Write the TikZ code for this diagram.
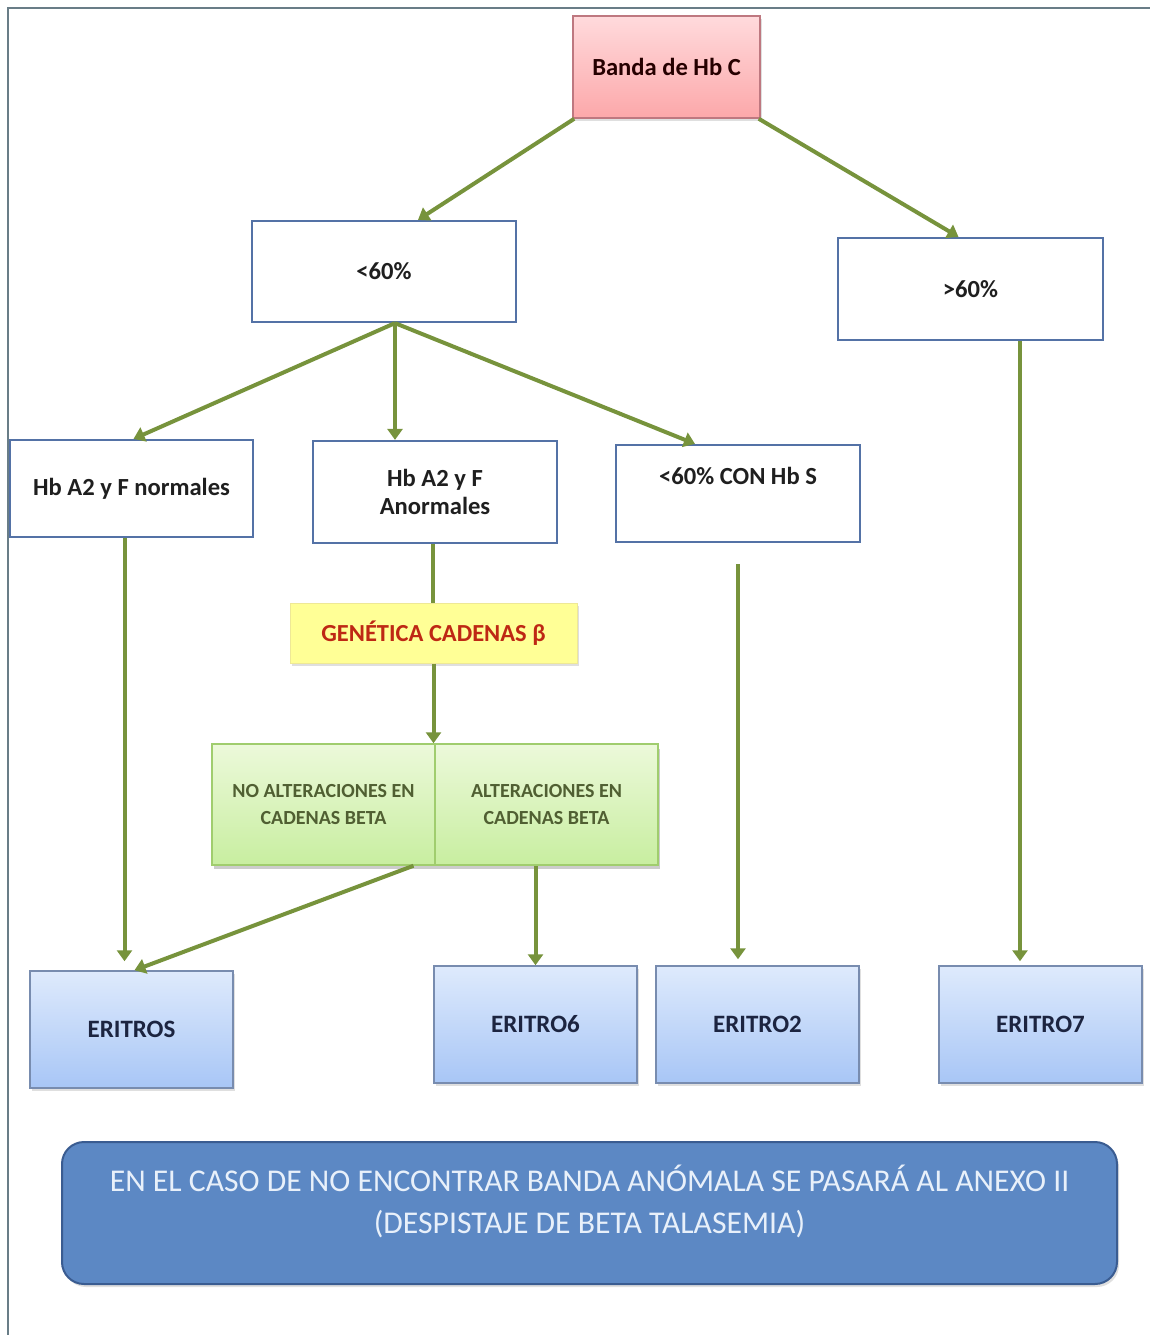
\documentclass[tikz,border=0pt]{standalone}
\usepackage{fontspec}
\setmainfont{Carlito}
\usetikzlibrary{arrows.meta,shadows}

\definecolor{boxblue}{RGB}{84,114,166}
\definecolor{arrowgreen}{RGB}{119,147,60}
\definecolor{pinktop}{RGB}{255,218,220}
\definecolor{pinkbot}{RGB}{252,168,170}
\definecolor{pinkline}{RGB}{190,120,128}
\definecolor{yellowfill}{RGB}{255,255,150}
\definecolor{yellowline}{RGB}{238,232,150}
\definecolor{genred}{RGB}{190,40,20}
\definecolor{greentop}{RGB}{236,249,218}
\definecolor{greenbot}{RGB}{200,238,160}
\definecolor{greenline}{RGB}{160,205,110}
\definecolor{greentext}{RGB}{80,95,50}
\definecolor{eritop}{RGB}{222,234,252}
\definecolor{eribot}{RGB}{168,198,246}
\definecolor{eriline}{RGB}{120,140,175}
\definecolor{eritext}{RGB}{28,36,64}
\definecolor{notefill}{RGB}{92,136,196}
\definecolor{noteline}{RGB}{58,92,145}
\definecolor{notetext}{RGB}{232,240,250}
\definecolor{framegray}{RGB}{105,125,135}

\begin{document}
\begin{tikzpicture}[x=1pt,y=-1pt,
  softshadow/.style={drop shadow={opacity=0.25, shadow xshift=2pt, shadow yshift=-3pt}},
  boxfont/.style={font=\bfseries\fontsize{24.6}{28}\selectfont},
  plainbox/.style={draw=boxblue, line width=2.2pt, fill=white, inner sep=0pt,
    text=black!88, boxfont, align=center},
  startbox/.style={draw=pinkline, line width=1.5pt, top color=pinktop, bottom color=pinkbot,
    inner sep=0pt, text=black!85!red, boxfont, softshadow},
  genbox/.style={draw=yellowline, line width=1pt, fill=yellowfill, inner sep=0pt,
    text=genred, font=\bfseries\fontsize{24.5}{28}\selectfont, softshadow},
  altbox/.style={draw=greenline, line width=1.5pt, top color=greentop, bottom color=greenbot,
    inner sep=0pt, text=greentext, font=\bfseries\fontsize{20}{27}\selectfont, align=center},
  eribox/.style={draw=eriline, line width=1.5pt, top color=eritop, bottom color=eribot,
    inner sep=0pt, text=eritext, font=\bfseries\fontsize{25}{28}\selectfont, softshadow},
  notebox/.style={draw=noteline, line width=2pt, fill=notefill, rounded corners=22pt,
    inner sep=0pt, softshadow},
  arr/.style={draw=arrowgreen, line width=4pt, -{Triangle[width=15pt,length=11pt]}},
  link/.style={draw=arrowgreen, line width=4pt}
]
\useasboundingbox (0,0) rectangle (1150,1335);

% page frame (top and left edges)
\draw[framegray, line width=2.5pt] (8,1335) -- (8,8) -- (1150,8);

% boxes
\node[startbox, minimum width=187pt, minimum height=102pt] (banda) at (666.5,67) {Banda de Hb C};
\node[plainbox, minimum width=264pt, minimum height=101pt] (lt) at (384,271.5) {<60\%};
\node[plainbox, minimum width=265pt, minimum height=102pt] (gt) at (970.5,289) {>60\%};
\node[plainbox, minimum width=243pt, minimum height=97pt] (norm) at (131.5,488.5) {Hb A2 y F normales};
\node[plainbox, minimum width=244pt, minimum height=102pt] (anorm) at (435,492) {Hb A2 y F\\Anormales};
\node[plainbox, minimum width=244pt, minimum height=97pt,
  label={[anchor=north, yshift=-20pt, boxfont, text=black!88]north:{<60\% CON Hb S}}]
  (hbs) at (738,493.5) {};
\node[genbox, minimum width=287pt, minimum height=60pt] (gen) at (433.5,633) {GENÉTICA CADENAS β};

% two-part result box
\fill[black, opacity=0.2] (214,749) rectangle (660,869);
\node[altbox, minimum width=223pt, minimum height=121pt] (noalt) at (323.5,804.5) {NO ALTERACIONES EN\\CADENAS BETA};
\node[altbox, minimum width=223pt, minimum height=121pt] (alt) at (546.5,804.5) {ALTERACIONES EN\\CADENAS BETA};

\node[eribox, minimum width=203pt, minimum height=117pt] (eritros) at (131.5,1029.5) {ERITROS};
\node[eribox, minimum width=203pt, minimum height=117pt] (eritro6) at (535.5,1024.5) {ERITRO6};
\node[eribox, minimum width=203pt, minimum height=117pt] (eritro2) at (757.5,1024.5) {ERITRO2};
\node[eribox, minimum width=203pt, minimum height=117pt] (eritro7) at (1040.5,1024.5) {ERITRO7};

\node[notebox, minimum width=1055pt, minimum height=142pt,
  label={[yshift=12pt, text=notetext, font=\fontsize{31.7}{42}\selectfont, align=center]center:{EN EL CASO DE NO ENCONTRAR BANDA ANÓMALA SE PASARÁ AL ANEXO II\\(DESPISTAJE DE BETA TALASEMIA)}}]
  (note) at (589.5,1213) {};

% connectors
\draw[arr] ([xshift=2pt]banda.south west) -- ([xshift=34pt]lt.north);
\draw[arr] ([xshift=-2pt]banda.south east) -- ([xshift=-12pt]gt.north);

\coordinate (split) at ([xshift=11pt]lt.south);
\draw[arr] (split) -- ([xshift=2pt]norm.north);
\draw[arr] (split) -- (split |- anorm.north);
\draw[arr] (split) -- ([xshift=-43pt]hbs.north);

\coordinate (normout) at ([xshift=-7pt]norm.south);
\draw[arr, shorten >=9pt] (normout) -- (normout |- eritros.north);
\coordinate (anormout) at ([xshift=-2pt]anorm.south);
\draw[link] (anormout) -- (anormout |- gen.north);
\draw[arr] (gen.south) -- (gen.south |- noalt.north);
\draw[arr] ([xshift=90pt]noalt.south) -- ([xshift=3pt]eritros.north);
\draw[arr] (eritro6.north |- alt.south) -- (eritro6.north);
\coordinate (hbsout) at ([yshift=-21pt]hbs.south);
\draw[arr, shorten >=6pt] (hbsout) -- (hbsout |- eritro2.north);
\coordinate (gtout) at ([xshift=49.5pt]gt.south);
\draw[arr, shorten >=4pt] (gtout) -- (gtout |- eritro7.north);
\end{tikzpicture}
\end{document}
